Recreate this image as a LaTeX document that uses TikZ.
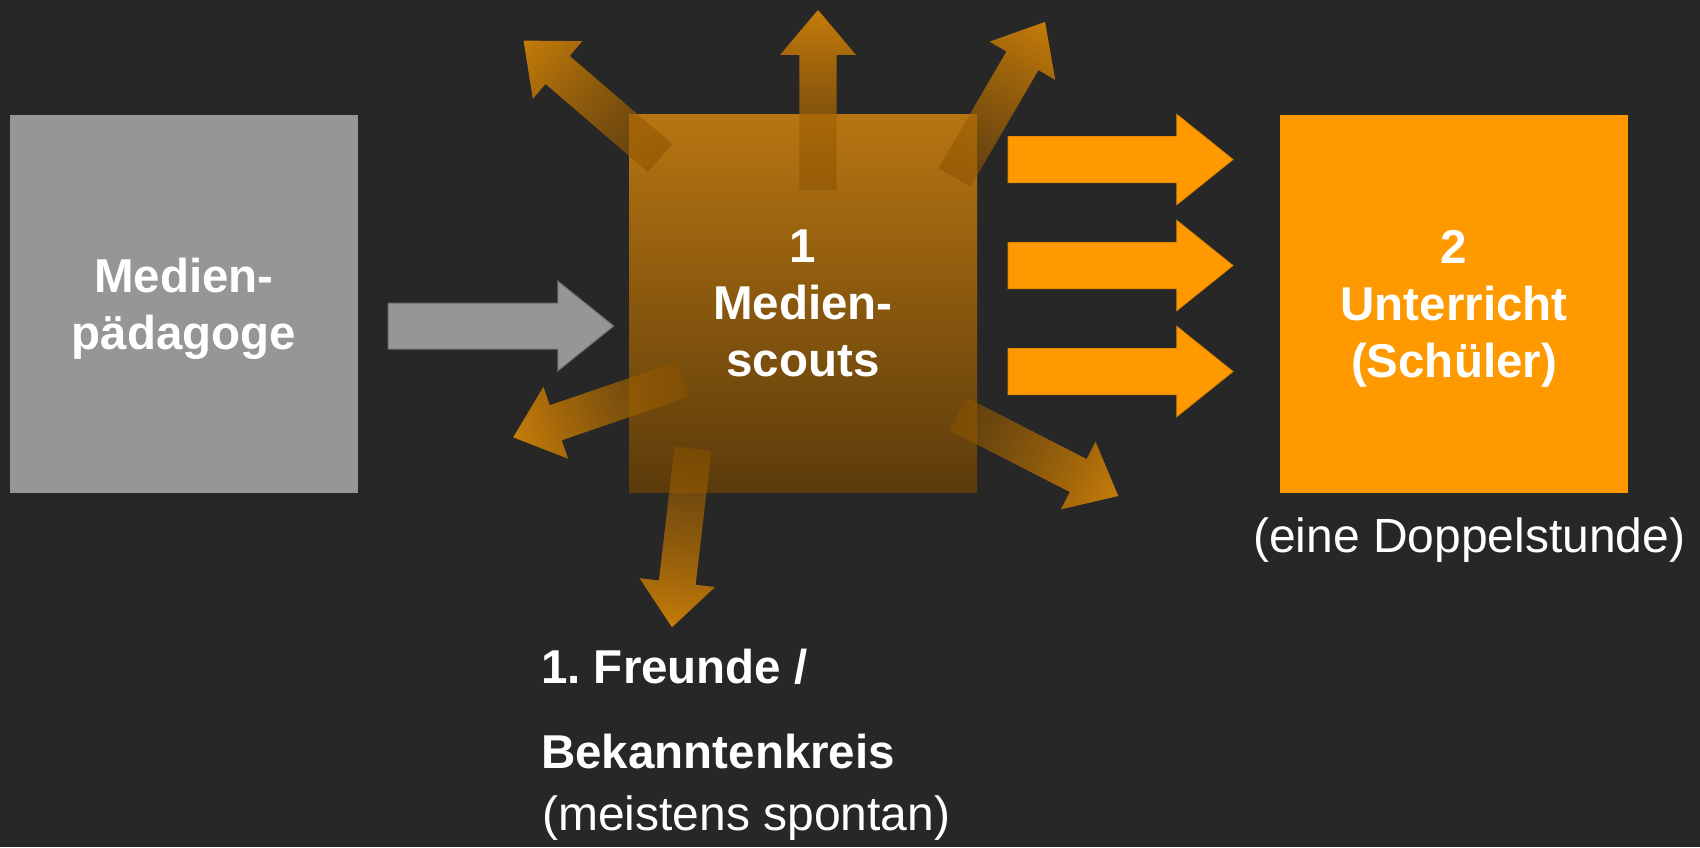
\documentclass[tikz,border=0pt]{standalone}
\usepackage{fontspec}
\setmainfont{Liberation Sans}
\usetikzlibrary{calc,fadings}
\frenchspacing

\definecolor{bg}{HTML}{272727}
\definecolor{pedgray}{HTML}{969696}
\definecolor{pedline}{HTML}{6C6C6C}
\definecolor{classorange}{HTML}{FF9900}
\definecolor{orangeline}{HTML}{E68A00}
\definecolor{scouttop}{HTML}{B77511}
\definecolor{scoutbottom}{HTML}{5B3B0B}
\definecolor{raytip}{HTML}{C67D0A}
\definecolor{raytail}{HTML}{8A5200}

% rays fade out towards their tails
\tikzfading[name=rayfade, left color=transparent!45, right color=transparent!0]

\tikzset{
  box/.style={minimum width=348pt, minimum height=378pt, inner sep=0pt,
    align=center, text=white, text depth=0pt,
    font=\fontsize{47.5}{57}\selectfont\bfseries},
  pedbox/.style={box, fill=pedgray},
  scoutbox/.style={box, top color=scouttop, bottom color=scoutbottom},
  classbox/.style={box, fill=classorange},
  labelbold/.style={inner sep=0pt, anchor=base west, text=white,
    font=\fontsize{47.5}{57}\selectfont\bfseries},
  labelreg/.style={inner sep=0pt, anchor=base west, text=white,
    font=\fontsize{48}{57}\selectfont},
  grayarrow/.style={fill=pedgray, draw=pedline, line width=1pt},
  orangearrow/.style={fill=classorange, draw=orangeline, line width=1pt},
}

% horizontal block arrow from #1 (tail) to #2 (tip)
\newcommand\blockarrow[3]{%
  \path[#3] ($(#1)+(0,-23)$) -- ($(#2)+(-56,-23)$) -- ($(#2)+(-56,-45)$)
    -- (#2) -- ($(#2)+(-56,45)$) -- ($(#2)+(-56,23)$) -- ($(#1)+(0,23)$) -- cycle;}

% shaded ray starting at #1, pointing at angle #2
\newcommand\rayarrow[2]{%
  \begin{scope}[transform canvas={shift={(#1)}, rotate=#2}]
    \shade[left color=raytail, right color=raytip, path fading=rayfade]
      (0,-18.5) -- (135,-18.5) -- (135,-38) -- (180,0) -- (135,38)
      -- (135,18.5) -- (0,18.5) -- cycle;
  \end{scope}}

\begin{document}
\begin{tikzpicture}[x=1pt, y=-1pt]
  \path[use as bounding box, fill=bg] (0,0) rectangle (1700,847);

  % the three stages
  \node[pedbox] (ped) at (184,303.5) {Medien-\\pädagoge};
  \node[scoutbox] (scouts) at (803,303.5) {1\\Medien-\\scouts};
  \node[classbox] (class) at (1454,303.5) {2\\Unterricht\\(Schüler)};

  % pedagogue -> scouts
  \coordinate (gtail) at ($(ped.east)+(30,22.5)$);
  \coordinate (gtip)  at ($(scouts.west)+(-15,22.5)$);
  \blockarrow{gtail}{gtip}{grayarrow}

  % scouts -> lessons
  \foreach \dy [count=\i] in {-144,-38,68} {
    \coordinate (otail\i) at ($(scouts.east)+(31,\dy)$);
    \coordinate (otip\i)  at ($(class.west)+(-47,\dy)$);
    \blockarrow{otail\i}{otip\i}{orangearrow}
  }

  % informal spreading in all directions
  \coordinate (r1) at ($(scouts.center)+(15,-113.5)$);
  \coordinate (r2) at ($(scouts.center)+(-143,-145.5)$);
  \coordinate (r3) at ($(scouts.center)+(151.5,-126)$);
  \coordinate (r4) at ($(scouts.center)+(-119.5,75.5)$);
  \coordinate (r5) at ($(scouts.center)+(155,110.5)$);
  \coordinate (r6) at ($(scouts.center)+(-110,145)$);
  \rayarrow{r1}{90}
  \rayarrow{r2}{139.3}
  \rayarrow{r3}{59.8}
  \rayarrow{r4}{198.9}
  \rayarrow{r5}{-27.1}
  \rayarrow{r6}{263.3}

  % captions
  \node[labelreg] (dbl) at (1253,552) {(eine Doppelstunde)};
  \node[labelbold] (friends) at (541,683) {1. Freunde /};
  \node[labelbold] (circle) at (541,768) {Bekanntenkreis};
  \node[labelreg] (spont) at (542,830) {(meistens spontan)};
\end{tikzpicture}
\end{document}
